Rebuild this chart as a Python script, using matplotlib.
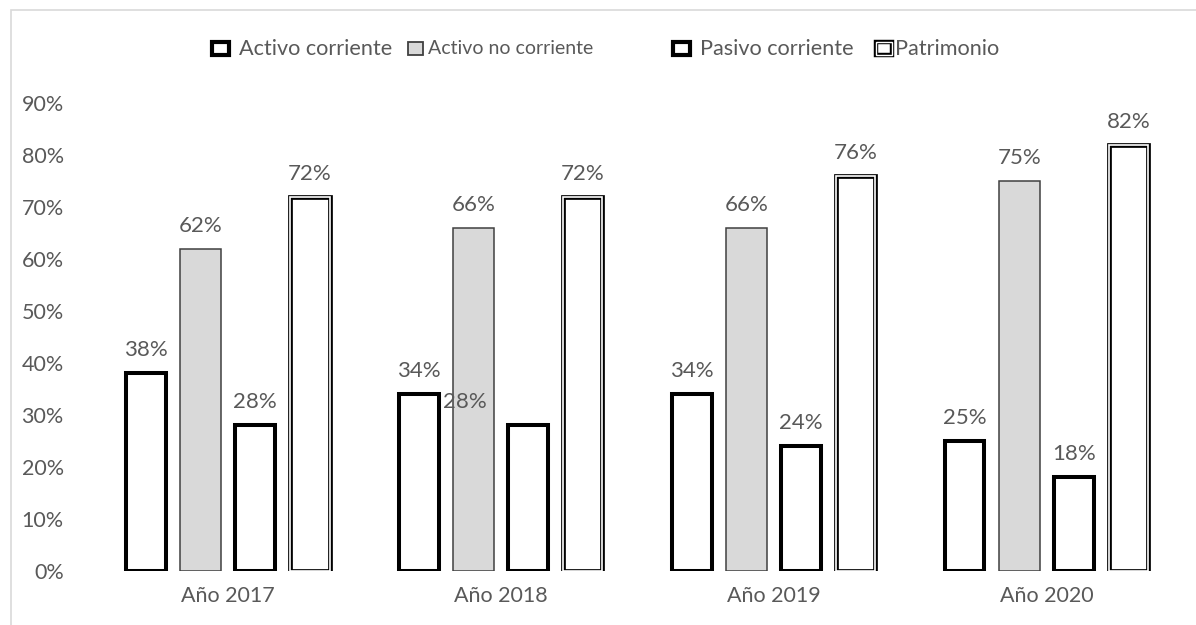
import matplotlib.pyplot as plt
from matplotlib.patches import Rectangle

years = ["Año 2017", "Año 2018", "Año 2019", "Año 2020"]
activo_corriente = [0.38, 0.34, 0.34, 0.25]
activo_no_corriente = [0.62, 0.66, 0.66, 0.75]
pasivo_corriente = [0.28, 0.28, 0.24, 0.18]
patrimonio = [0.72, 0.72, 0.76, 0.82]
y_ticks = [0.0, 0.1, 0.2, 0.3, 0.4, 0.5, 0.6, 0.7, 0.8, 0.9]

TEXT = "#595959"
GREY = "#d9d9d9"
W, H = 1196, 625

plt.rcParams["font.family"] = ["Lato", "DejaVu Sans"]

fig = plt.figure(figsize=(W / 100, H / 100), dpi=100)
ax = fig.add_axes([91.5 / W, 1 - 571 / H, (1183 - 91.5) / W, (571 - 103) / H])

x = range(len(years))
width = 0.145
offsets = [-0.3, -0.1, 0.1, 0.3]


def label_bars(bars, values, dx=0.0):
    for b, v in zip(bars, values):
        ax.annotate(f"{v:.0%}", (b.get_x() + b.get_width() / 2 + dx, v),
                    xytext=(0, 16.5), textcoords="offset points",
                    ha="center", va="center", fontsize=16, color=TEXT)


b1 = ax.bar([i + offsets[0] for i in x], activo_corriente, width,
            facecolor="white", edgecolor="black", linewidth=2.9, joinstyle="miter")
b2 = ax.bar([i + offsets[1] for i in x], activo_no_corriente, width + 0.005,
            facecolor=GREY, edgecolor="#404040", linewidth=1.1)
b3 = ax.bar([i + offsets[2] for i in x], pasivo_corriente, width,
            facecolor="white", edgecolor="black", linewidth=2.9, joinstyle="miter")
# double outline: wide black edge with a thin white line running inside it
b4 = ax.bar([i + offsets[3] for i in x], patrimonio, width,
            facecolor="white", edgecolor="black", linewidth=3.4, joinstyle="miter")
ax.bar([i + offsets[3] for i in x], patrimonio, width,
       facecolor="none", edgecolor="white", linewidth=1.2, joinstyle="miter")

label_bars(b1, activo_corriente)
label_bars(b2, activo_no_corriente)
label_bars(b3[:1], pasivo_corriente[:1])
label_bars(b3[1:2], pasivo_corriente[1:2], dx=-0.232)
label_bars(b3[2:], pasivo_corriente[2:])
label_bars(b4, patrimonio)

ax.set_xlim(-0.5, 3.5)
ax.set_ylim(0, 0.9)
ax.set_xticks(list(x))
ax.set_xticklabels(years)
ax.set_yticks(y_ticks)
ax.set_yticklabels([f"{t:.0%}" for t in y_ticks])
ax.tick_params(length=0, labelsize=15.5, colors=TEXT)
ax.tick_params(axis="x", pad=11)
ax.tick_params(axis="y", pad=20)
for s in ax.spines.values():
    s.set_visible(False)

# chart frame
fig.add_artist(Rectangle((11 / W, -0.1), 1.2, 1 - 10 / H + 0.1, transform=fig.transFigure,
                         facecolor="none", edgecolor=GREY, linewidth=1.2))

# legend: (label, icon x, icon width, text x, font size, icon style)
legend_items = [
    ("Activo corriente", 212, 17, 239, 15.6, dict(facecolor="white", edgecolor="black", linewidth=3.0)),
    ("Activo no corriente", 408, 15, 428, 14, dict(facecolor=GREY, edgecolor="#404040", linewidth=1.3)),
    ("Pasivo corriente", 673, 17, 700, 15.6, dict(facecolor="white", edgecolor="black", linewidth=3.0)),
    ("Patrimonio", 876, 16, 895, 15.6, dict(facecolor="white", edgecolor="black", linewidth=3.2)),
]
ly = 49
for label, px, pw, tx, size, style in legend_items:
    fig.add_artist(Rectangle((px / W, 1 - (ly + 6) / H), pw / W, 13 / H,
                             transform=fig.transFigure, joinstyle="miter", **style))
    if label == "Patrimonio":
        fig.add_artist(Rectangle((px / W, 1 - (ly + 6) / H), pw / W, 13 / H,
                                 transform=fig.transFigure, facecolor="none",
                                 edgecolor="white", linewidth=1.0))
    fig.text(tx / W, 1 - ly / H, label, fontsize=size, color=TEXT, ha="left", va="center")

fig.savefig("out.png", dpi=100)
